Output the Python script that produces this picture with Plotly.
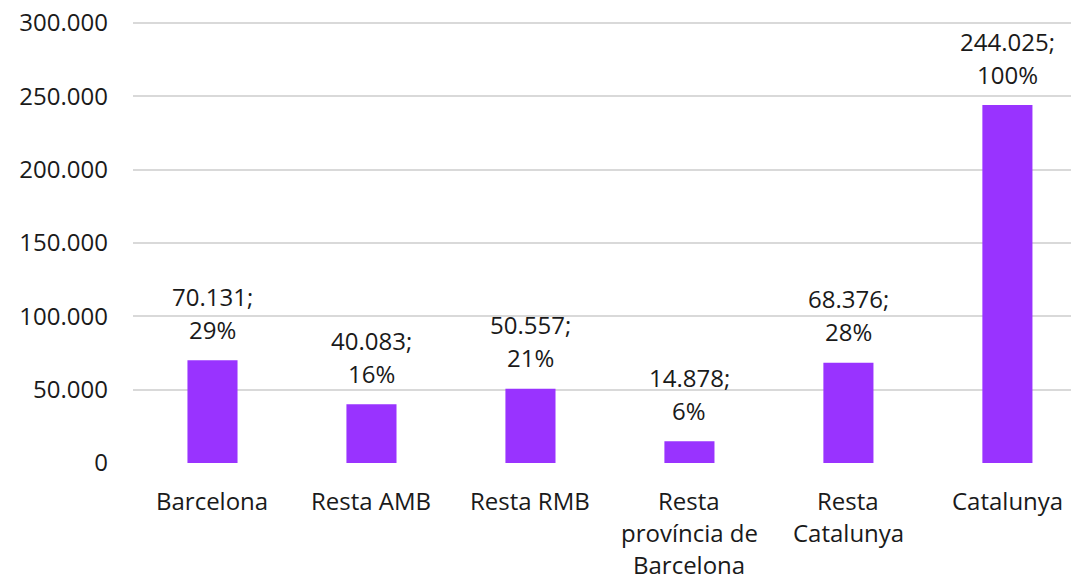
import plotly.graph_objects as go

categories = ["Barcelona", "Resta AMB", "Resta RMB", "Resta\nprovíncia de\nBarcelona", "Resta\nCatalunya", "Catalunya"]
values = [70131, 40083, 50557, 14878, 68376, 244025]
percent_labels = ["29%", "16%", "21%", "6%", "28%", "100%"]
value_labels = ["70.131;", "40.083;", "50.557;", "14.878;", "68.376;", "244.025;"]
y_tickvals = [0, 50000, 100000, 150000, 200000, 250000, 300000]
y_ticktext = ["0", "50.000", "100.000", "150.000", "200.000", "250.000", "300.000"]

FONT = "Open Sans"
FS = 24
COL = "#1a1a1a"
idx = list(range(len(categories)))

fig = go.Figure()
fig.add_trace(go.Bar(
    x=idx, y=values, width=0.315,
    marker=dict(color="#9933FF", line=dict(width=0)),
    hoverinfo="skip",
))

ann = []
for i, v in enumerate(values):
    ann.append(dict(x=i, y=v, xref="x", yref="y", text=percent_labels[i], showarrow=False,
                    yanchor="middle", yshift=31, font=dict(family=FONT, size=FS, color=COL)))
    ann.append(dict(x=i, y=v, xref="x", yref="y", text=value_labels[i], showarrow=False,
                    yanchor="middle", yshift=64, font=dict(family=FONT, size=FS, color=COL)))
    for j, line in enumerate(categories[i].split("\n")):
        ann.append(dict(x=i, y=0, xref="x", yref="paper", text=line, showarrow=False,
                        yanchor="middle", yshift=-37 - 32 * j,
                        font=dict(family=FONT, size=FS, color=COL)))

fig.update_layout(
    width=1071, height=575,
    margin=dict(l=133, r=0, t=20, b=112),
    plot_bgcolor="white", paper_bgcolor="white",
    showlegend=False,
    annotations=ann,
    xaxis=dict(range=[-0.5, 5.4], tickvals=idx, ticktext=[""] * len(idx),
               showgrid=False, zeroline=False, showline=False, ticks=""),
    yaxis=dict(range=[0, 302000], tickvals=y_tickvals, ticktext=y_ticktext,
               showgrid=True, gridcolor="#d9d9d9", gridwidth=1.5,
               zeroline=False, showline=False, ticks="",
               ticklabelstandoff=24,
               tickfont=dict(family=FONT, size=FS, color=COL)),
)

fig.write_html("out.html", config={"displayModeBar": False},
               post_script="document.body.style.margin='0';")
